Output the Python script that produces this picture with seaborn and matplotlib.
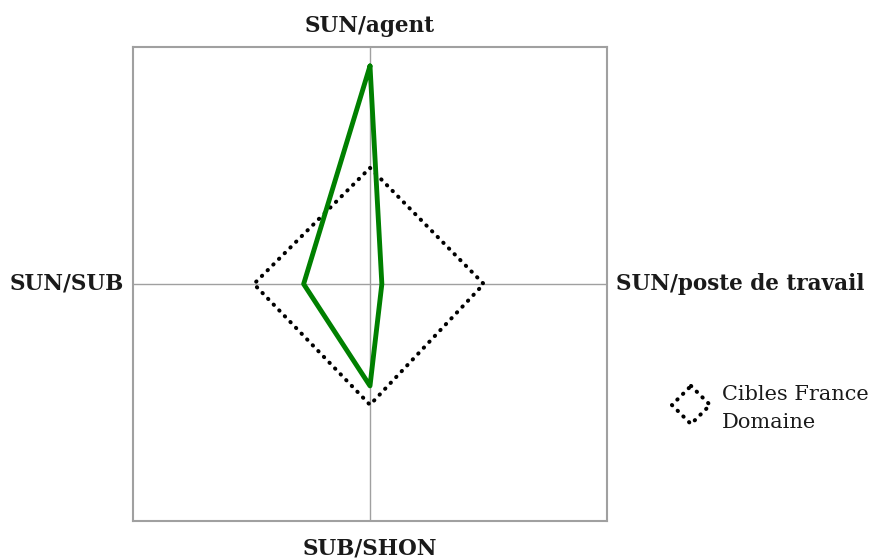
import pandas as pd
import matplotlib.pyplot as plt
import seaborn as sns

# radar axes (clockwise from top) and values on a 0-100 scale
axes_names = ["SUN/agent", "SUN/poste de travail", "SUB/SHON", "SUN/SUB"]
actual = [92, 5, 43, 28]
cibles = [49, 48, 51, 49]
legend_label = "Cibles France\nDomaine"

# unit directions for each axis: up, right, down, left
dirs = [(0, 1), (1, 0), (0, -1), (-1, 0)]


def to_xy(values, name):
    rows = []
    for i in range(len(values) + 1):
        k = i % len(values)
        dx, dy = dirs[k]
        rows.append({"x": dx * values[k], "y": dy * values[k], "order": i, "serie": name})
    return rows


df = pd.DataFrame(to_xy(actual, "actual") + to_xy(cibles, "cibles"))

sns.set_style("white")
plt.rcParams["font.family"] = ["DejaVu Serif"]

DOTS = (0, (0.1, 1.9))

fig = plt.figure(figsize=(8.76, 5.60), dpi=100)
ax = fig.add_axes([133 / 876, 39 / 560, 474 / 876, 474 / 560])
ax.set_xlim(-100, 100)
ax.set_ylim(-100, 100)

ax.axhline(0, color="#a0a0a0", lw=1.0, zorder=1)
ax.axvline(0, color="#a0a0a0", lw=1.0, zorder=1)

sns.lineplot(data=df[df.serie == "cibles"], x="x", y="y", sort=False, estimator=None,
             color="black", lw=2.9, ax=ax, zorder=2)
ax.lines[-1].set_linestyle(DOTS)
ax.lines[-1].set_dash_capstyle("round")
sns.lineplot(data=df[df.serie == "actual"], x="x", y="y", sort=False, estimator=None,
             color="#008000", lw=3.5, ax=ax, zorder=3)

ax.set_xticks([])
ax.set_yticks([])
ax.set_xlabel("")
ax.set_ylabel("")
for s in ax.spines.values():
    s.set_color("#a0a0a0")
    s.set_linewidth(1.5)

lab = dict(fontsize=15.5, fontweight="bold", color="#1a1a1a")
ax.text(0.5, 1.022, axes_names[0], transform=ax.transAxes, ha="center", va="bottom", **lab)
ax.text(1.02, 0.5, axes_names[1], transform=ax.transAxes, ha="left", va="center", **lab)
ax.text(0.5, -0.035, axes_names[2], transform=ax.transAxes, ha="center", va="top", **lab)
ax.text(-0.02, 0.5, axes_names[3], transform=ax.transAxes, ha="right", va="center", **lab)

# legend key: small dotted diamond
lax = fig.add_axes([670 / 876, 134 / 560, 42 / 876, 42 / 560])
lax.set_xlim(-1.1, 1.1)
lax.set_ylim(-1.1, 1.1)
key = pd.DataFrame({"x": [0, 1, 0, -1, 0], "y": [1, 0, -1, 0, 1]})
sns.lineplot(data=key, x="x", y="y", sort=False, estimator=None, color="black", lw=2.9, ax=lax)
lax.lines[-1].set_linestyle(DOTS)
lax.lines[-1].set_dash_capstyle("round")
lax.axis("off")
fig.text(722 / 876, 1 - 408 / 560, legend_label, ha="left", va="center",
         fontsize=15, color="#1a1a1a", linespacing=1.6)

fig.savefig("out.png", dpi=100)
